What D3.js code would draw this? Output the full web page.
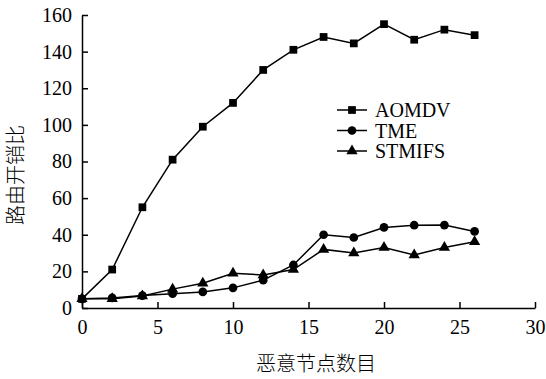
<!DOCTYPE html>
<html>
<head>
<meta charset="utf-8">
<script src="https://cdn.jsdelivr.net/npm/d3@7"></script>
<style>
  body { margin: 0; background: #fff; }
  svg { display: block; }
  .axis path, .axis line { stroke: #000; stroke-width: 1.5px; }
  .axis text { font-family: 'Liberation Serif', serif; font-size: 20px; fill: #000; }
  .cn { font-family: 'Noto Sans CJK SC', sans-serif; font-size: 20px; font-weight: 300; fill: #000; }
  .legend text { font-family: 'Liberation Serif', serif; font-size: 20px; fill: #000; }
</style>
</head>
<body>
<div id="chart"></div>
<script>
// 恶意节点数目
var nodes = [0, 2, 4, 6, 8, 10, 12, 14, 16, 18, 20, 22, 24, 26];
var aomdv = [5, 21, 55, 81, 99, 112, 130, 141, 148, 144.5, 155, 146.5, 152, 149];
var tme = [5, 5.5, 6.8, 7.8, 8.8, 11, 15.2, 23.5, 40, 38.5, 44, 45.2, 45.3, 41.8];
var stmifs = [5, 5, 6.5, 10.3, 13.5, 19, 18, 21, 32, 30, 33, 29, 33, 36.2];
var xTicks = [0, 5, 10, 15, 20, 25, 30];
var yTicks = [0, 20, 40, 60, 80, 100, 120, 140, 160];

var svg = d3.select('#chart').append('svg')
    .attr('width', 546)
    .attr('height', 379),
  margin = {top: 15, right: 11, bottom: 71, left: 82},
  width = 546 - margin.left - margin.right,
  height = 379 - margin.top - margin.bottom,
  g = svg.append('g').attr('transform', 'translate(' + margin.left + ',' + margin.top + ')');

var x = d3.scaleLinear().domain([0, 30]).range([0, width]),
  y = d3.scaleLinear().domain([0, 160]).range([height, 0]);

g.append('g')
  .attr('class', 'axis')
  .attr('transform', 'translate(0,' + height + ')')
  .call(d3.axisBottom(x).tickValues(xTicks).tickSizeInner(-6).tickSizeOuter(0).tickPadding(12));

g.append('g')
  .attr('class', 'axis')
  .call(d3.axisLeft(y).tickValues(yTicks).tickSizeInner(-6).tickSizeOuter(0).tickPadding(10));

var series = [
  {id: 'AOMDV', values: aomdv, shape: d3.symbolSquare, size: 60},
  {id: 'TME', values: tme, shape: d3.symbolCircle, size: 60},
  {id: 'STMIFS', values: stmifs, shape: d3.symbolTriangle, size: 55}
];

var line = d3.line()
  .x(function(d) { return x(d.x); })
  .y(function(d) { return y(d.y); });

var groups = g.selectAll('.series')
  .data(series)
  .enter().append('g')
  .attr('class', 'series');

groups.append('path')
  .attr('d', function(s) {
    return line(nodes.map(function(n, i) { return {x: n, y: s.values[i]}; }));
  })
  .attr('fill', 'none')
  .attr('stroke', '#000')
  .attr('stroke-width', 1.5);

groups.each(function(s) {
  d3.select(this).selectAll('.pt')
    .data(nodes.map(function(n, i) { return {x: n, y: s.values[i]}; }))
    .enter().append('path')
    .attr('class', 'pt')
    .attr('transform', function(d) { return 'translate(' + x(d.x) + ',' + y(d.y) + ')'; })
    .attr('d', d3.symbol().type(s.shape).size(s.size))
    .attr('fill', '#000');
});

// legend
var legend = svg.append('g').attr('class', 'legend')
  .attr('transform', 'translate(337,110)');

var items = legend.selectAll('g')
  .data(series)
  .enter().append('g')
  .attr('transform', function(d, i) { return 'translate(0,' + (i * 20.5) + ')'; });

items.append('line')
  .attr('x1', 0).attr('x2', 30)
  .attr('stroke', '#000').attr('stroke-width', 1.5);

items.append('path')
  .attr('transform', 'translate(15,0)')
  .attr('d', function(d) { return d3.symbol().type(d.shape).size(d.size)(); })
  .attr('fill', '#000');

items.append('text')
  .attr('x', 38)
  .attr('dy', '0.35em')
  .text(function(d) { return d.id; });

// axis titles
svg.append('text')
  .attr('class', 'cn')
  .attr('text-anchor', 'middle')
  .attr('x', margin.left + x(15.5))
  .attr('y', 371)
  .text('恶意节点数目');

svg.append('text')
  .attr('class', 'cn')
  .attr('text-anchor', 'middle')
  .attr('transform', 'translate(23,175) rotate(-90)')
  .text('路由开销比');
</script>
</body>
</html>
